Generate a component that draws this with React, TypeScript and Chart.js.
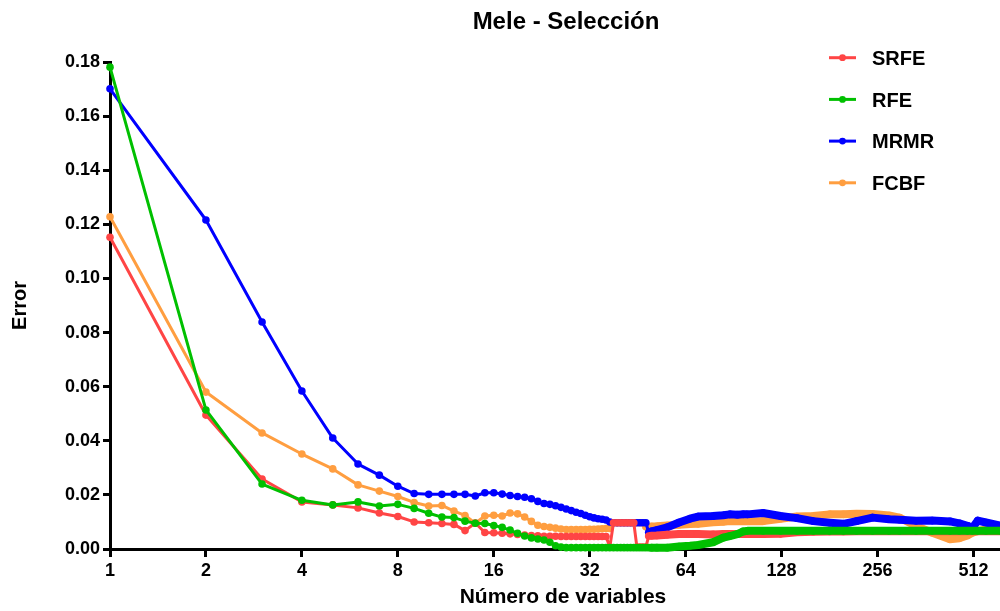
import React, { useEffect, useRef } from "react";
import { Chart, registerables } from "chart.js";

Chart.register(...registerables);

const TITLE = "Mele - Selección";
const X_TITLE = "Número de variables";
const Y_TITLE = "Error";

const SERIES_NAMES = ["SRFE", "RFE", "MRMR", "FCBF"];
const SERIES_COLORS = ["#FF4545", "#00C000", "#0000FF", "#FF9E40"];
const SERIES_ORDER = [1, 0, 2, 3];

const X_TICKS = [1, 2, 4, 8, 16, 32, 64, 128, 256, 512];
const Y_TICKS = [0, 0.02, 0.04, 0.06, 0.08, 0.1, 0.12, 0.14, 0.16, 0.18];

// every number of variables from 1 to 50
const N_DENSE = [
  1, 2, 3, 4, 5, 6, 7, 8, 9, 10, 11, 12, 13, 14, 15, 16, 17, 18, 19, 20, 21, 22, 23, 24, 25,
  26, 27, 28, 29, 30, 31, 32, 33, 34, 35, 36, 37, 38, 39, 40, 41, 42, 43, 44, 45, 46, 47, 48, 49, 50,
];

const SRFE_DENSE = [
  0.1152, 0.0495, 0.0259, 0.0174, 0.0163, 0.0152, 0.0133, 0.012, 0.01, 0.0097,
  0.0094, 0.0091, 0.0068, 0.0096, 0.0061, 0.006, 0.0058, 0.0056, 0.0054, 0.0052,
  0.005, 0.0049, 0.0047, 0.0047, 0.0047, 0.0046, 0.0046, 0.0046, 0.0046, 0.0046,
  0.0046, 0.0046, 0.0046, 0.0046, 0.0046, 0.0046, 0.0007, 0.0097, 0.0097, 0.0097,
  0.0097, 0.0097, 0.0097, 0.0097, 0.0007, 0.0007, 0.0007, 0.0007, 0.0048, 0.0049,
];
const RFE_DENSE = [
  0.1781, 0.0514, 0.024, 0.018, 0.0163, 0.0174, 0.0159, 0.0165, 0.015, 0.0132,
  0.0118, 0.0116, 0.0103, 0.0095, 0.0094, 0.0087, 0.008, 0.007, 0.0058, 0.0048,
  0.0041, 0.0037, 0.0033, 0.0025, 0.0012, 0.0007, 0.0005, 0.0005, 0.0005, 0.0005,
  0.0005, 0.0005, 0.0005, 0.0005, 0.0005, 0.0005, 0.0005, 0.0005, 0.0005, 0.0005,
  0.0005, 0.0005, 0.0005, 0.0005, 0.0005, 0.0005, 0.0005, 0.0005, 0.0005, 0.0005,
];
const MRMR_DENSE = [
  0.1701, 0.1216, 0.0839, 0.0584, 0.041, 0.0314, 0.0273, 0.0232, 0.0205, 0.0202,
  0.0202, 0.0202, 0.0202, 0.0196, 0.0208, 0.0208, 0.0203, 0.0198, 0.0194, 0.0191,
  0.0186, 0.0176, 0.0168, 0.0165, 0.016, 0.0154, 0.0148, 0.0142, 0.0136, 0.0131,
  0.0125, 0.0119, 0.0115, 0.0112, 0.011, 0.0107, 0.01, 0.0097, 0.0097, 0.0097,
  0.0097, 0.0097, 0.0097, 0.0097, 0.0097, 0.0097, 0.0097, 0.0097, 0.0062, 0.0065,
];
const FCBF_DENSE = [
  0.1228, 0.058, 0.0429, 0.0351, 0.0296, 0.0237, 0.0214, 0.0194, 0.0172, 0.0159,
  0.0161, 0.014, 0.0124, 0.0095, 0.0122, 0.0125, 0.0122, 0.0133, 0.013, 0.0118,
  0.0102, 0.0088, 0.0083, 0.008, 0.0077, 0.0074, 0.0072, 0.0072, 0.0072, 0.0072,
  0.0072, 0.0073, 0.0073, 0.0074, 0.0075, 0.0076, 0.0076, 0.0097, 0.0097, 0.0097,
  0.0097, 0.0097, 0.0097, 0.0097, 0.0097, 0.0097, 0.0097, 0.0082, 0.0082, 0.0083,
];

// readings along the dense band beyond 50 variables
const N_KNOTS = [
  52, 56, 61, 66, 70, 78, 84, 88, 93, 97, 100, 112, 127, 143, 161,
  181, 200, 220, 247, 278, 300, 338, 380, 432, 462, 490, 508, 528, 560, 622,
];
const SRFE_KNOTS = [
  0.005, 0.0053, 0.0055, 0.0055, 0.0055, 0.0054, 0.0055, 0.0055, 0.0055, 0.0055,
  0.0055, 0.0055, 0.0056, 0.0062, 0.0064, 0.0065, 0.0065, 0.0066, 0.0066, 0.0066,
  0.0066, 0.0066, 0.0066, 0.0066, 0.0066, 0.0066, 0.0066, 0.0066, 0.0066, 0.0066,
];
const RFE_KNOTS = [
  0.0005, 0.0005, 0.0009, 0.0012, 0.0015, 0.0025, 0.0042, 0.0048, 0.0055, 0.0065,
  0.0067, 0.0067, 0.0067, 0.0067, 0.0067, 0.0067, 0.0067, 0.0067, 0.0067, 0.0067,
  0.0067, 0.0067, 0.0067, 0.0067, 0.0067, 0.0067, 0.0067, 0.0067, 0.0067, 0.0067,
];
const MRMR_KNOTS = [
  0.007, 0.008, 0.0098, 0.0112, 0.012, 0.0122, 0.0125, 0.0128, 0.0127, 0.0128,
  0.0128, 0.0133, 0.0122, 0.0114, 0.0103, 0.0097, 0.0093, 0.0103, 0.0116, 0.011,
  0.0108, 0.0104, 0.0105, 0.0102, 0.0095, 0.0086, 0.0078, 0.0105, 0.0098, 0.0086,
];
const FCBF_KNOTS = [
  0.0084, 0.0087, 0.009, 0.0092, 0.0093, 0.0099, 0.0101, 0.0103, 0.0103, 0.0103,
  0.0103, 0.0103, 0.0112, 0.012, 0.0122, 0.0128, 0.0128, 0.013, 0.0129, 0.0124,
  0.0116, 0.0085, 0.006, 0.0036, 0.004, 0.005, 0.006, 0.0066, 0.0072, 0.0072,
];

const DENSE = [SRFE_DENSE, RFE_DENSE, MRMR_DENSE, FCBF_DENSE];
const KNOTS = [SRFE_KNOTS, RFE_KNOTS, MRMR_KNOTS, FCBF_KNOTS];

const FONT = '"Liberation Sans", Arial, Helvetica, sans-serif';

const overlayPlugin = {
  id: "overlay",
  afterDraw(chart: any) {
    const ctx = chart.ctx as CanvasRenderingContext2D;
    const area = chart.chartArea;
    ctx.save();
    ctx.fillStyle = "#000";
    ctx.font = `bold 24px ${FONT}`;
    ctx.textAlign = "center";
    ctx.textBaseline = "alphabetic";
    ctx.fillText(TITLE, (area.left + area.right) / 2 + 3, 29);

    SERIES_NAMES.forEach((name, i) => {
      const y = 57.7 + i * 41.7;
      ctx.strokeStyle = SERIES_COLORS[i];
      ctx.lineWidth = 3;
      ctx.beginPath();
      ctx.moveTo(829, y);
      ctx.lineTo(856, y);
      ctx.stroke();
      ctx.fillStyle = SERIES_COLORS[i];
      ctx.beginPath();
      ctx.arc(842.5, y, 3.4, 0, Math.PI * 2);
      ctx.fill();
      ctx.fillStyle = "#000";
      ctx.font = `bold 20px ${FONT}`;
      ctx.textAlign = "left";
      ctx.fillText(name, 872, y + 7.3);
    });
    ctx.restore();
  },
};

export default function App() {
  const ref = useRef<HTMLCanvasElement | null>(null);

  useEffect(() => {
    document.body.style.margin = "0";
    document.body.style.overflow = "hidden";
    document.documentElement.style.overflow = "hidden";
    Chart.defaults.font.family = FONT;
    const canvas = ref.current;
    if (!canvas) return;

    const datasets = SERIES_NAMES.map((name, s) => ({
      label: name,
      data: [
        ...N_DENSE.map((n, i) => ({ x: n, y: DENSE[s][i] })),
        ...N_KNOTS.map((n, i) => ({ x: n, y: KNOTS[s][i] })),
      ],
      borderColor: SERIES_COLORS[s],
      backgroundColor: SERIES_COLORS[s],
      pointBackgroundColor: SERIES_COLORS[s],
      pointBorderWidth: 0,
      pointRadius: 3.8,
      borderWidth: 3,
      borderJoinStyle: "round" as const,
      borderCapStyle: "round" as const,
      tension: 0,
      clip: false as any,
      order: SERIES_ORDER[s],
      segment: {
        borderWidth: (c: any) => (c.p1.parsed.x - c.p0.parsed.x > 1.5 ? 8 : 3),
      },
    }));

    const chart = new Chart(canvas, {
      type: "line",
      data: { datasets },
      plugins: [overlayPlugin],
      options: {
        animation: false,
        responsive: false,
        devicePixelRatio: 1,
        layout: { padding: { top: 62, right: 0, left: 0, bottom: 0 } },
        plugins: {
          legend: { display: false },
          title: { display: false },
          tooltip: { enabled: false },
        },
        scales: {
          x: {
            type: "logarithmic",
            min: 1,
            max: 696,
            bounds: "data",
            afterBuildTicks: (scale: any) => {
              scale.ticks = X_TICKS.map((v) => ({ value: v }));
            },
            afterFit: (scale: any) => {
              scale.height = 62;
            },
            ticks: {
              autoSkip: false,
              maxRotation: 0,
              color: "#000",
              padding: 3,
              font: { size: 18, weight: "bold" },
              callback: (v: any) => String(v),
            },
            grid: {
              display: true,
              drawOnChartArea: false,
              drawTicks: true,
              tickLength: 8,
              tickWidth: 3,
              tickColor: "#000",
            },
            border: { display: true, color: "#000", width: 3 },
            title: {
              display: true,
              text: X_TITLE,
              color: "#000",
              font: { size: 21, weight: "bold" },
              padding: { top: 0, bottom: 1 },
            },
          },
          y: {
            type: "linear",
            min: 0,
            max: 0.18,
            afterBuildTicks: (scale: any) => {
              scale.ticks = Y_TICKS.map((v) => ({ value: v }));
            },
            afterFit: (scale: any) => {
              scale.width = 110;
            },
            ticks: {
              color: "#000",
              padding: 3,
              font: { size: 18, weight: "bold" },
              callback: (v: any) => Number(v).toFixed(2),
            },
            grid: {
              display: true,
              drawOnChartArea: false,
              drawTicks: true,
              tickLength: 7,
              tickWidth: 3,
              tickColor: "#000",
            },
            border: { display: true, color: "#000", width: 3 },
            title: {
              display: true,
              text: Y_TITLE,
              color: "#000",
              font: { size: 20, weight: "bold" },
              padding: { top: 8, bottom: 0 },
            },
          },
        },
      } as any,
    });

    return () => chart.destroy();
  }, []);

  return (
    <div style={{ width: 1020, height: 611, overflow: "hidden" }}>
      <canvas ref={ref} width={1020} height={611} style={{ display: "block" }} />
    </div>
  );
}
